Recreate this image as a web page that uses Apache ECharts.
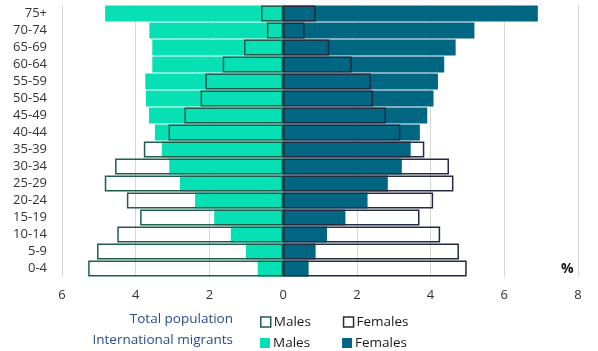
<!DOCTYPE html>
<html>
<head>
<meta charset="utf-8">
<script src="https://cdn.jsdelivr.net/npm/echarts@6/dist/echarts.min.js"></script>
<style>
html, body { margin: 0; padding: 0; background: #fff; }
#chart { width: 598px; height: 351px; }
</style>
</head>
<body>
<div id="chart"></div>
<script>
// age groups, bottom to top
var ageGroups = ['0-4', '5-9', '10-14', '15-19', '20-24', '25-29', '30-34', '35-39',
    '40-44', '45-49', '50-54', '55-59', '60-64', '65-69', '70-74', '75+'];

// shares in %
var migrantMales   = [0.69, 1.01, 1.42, 1.87, 2.39, 2.80, 3.09, 3.29, 3.48, 3.64, 3.72, 3.74, 3.55, 3.55, 3.63, 4.83];
var migrantFemales = [0.69, 0.88, 1.19, 1.69, 2.29, 2.84, 3.22, 3.46, 3.71, 3.91, 4.08, 4.20, 4.37, 4.68, 5.19, 6.91];
var totalMales     = [5.29, 5.05, 4.50, 3.88, 4.24, 4.84, 4.56, 3.78, 3.11, 2.68, 2.24, 2.11, 1.64, 1.06, 0.44, 0.60];
var totalFemales   = [4.98, 4.77, 4.26, 3.70, 4.07, 4.62, 4.50, 3.83, 3.18, 2.79, 2.44, 2.38, 1.86, 1.25, 0.58, 0.88];

var teal = '#06e0b4';
var navy = '#006681';
var maleLine = '#1f5e4d';
var femaleLine = '#222b40';
var labelBlue = '#2b4a96';

function neg(arr) {
    return arr.map(function (v) { return -v; });
}

var chart = echarts.init(document.getElementById('chart'));

var option = {
    animation: false,
    textStyle: { fontFamily: 'Open Sans' },
    grid: { left: 62, right: 20, top: 5, bottom: 74 },
    xAxis: {
        type: 'value',
        min: -6,
        max: 8,
        interval: 2,
        axisLine: { show: false },
        axisTick: { show: false },
        axisLabel: {
            color: '#333',
            fontSize: 13,
            margin: 12,
            formatter: function (v) { return Math.abs(v); }
        },
        splitLine: { lineStyle: { color: '#d6d6d6', width: 1 } }
    },
    yAxis: {
        type: 'category',
        data: ageGroups,
        axisTick: { show: false },
        axisLine: { show: true, lineStyle: { color: '#9a9a9a' } },
        axisLabel: { color: '#333', fontSize: 13, margin: 15 }
    },
    legend: [
        {
            left: 255, top: 310,
            itemWidth: 10, itemHeight: 10, itemGap: 32,
            icon: 'rect',
            textStyle: { fontSize: 13.5, color: '#1a1a1a', padding: [0, 0, 0, -2] },
            formatter: function (n) { return n.indexOf('Males') >= 0 ? 'Males' : 'Females'; },
            data: [
                { name: 'Total population Males', itemStyle: { color: '#fff', borderColor: maleLine, borderWidth: 1.5 } },
                { name: 'Total population Females', itemStyle: { color: '#fff', borderColor: femaleLine, borderWidth: 1.5 } }
            ]
        },
        {
            left: 255, top: 331,
            itemWidth: 10, itemHeight: 10, itemGap: 32,
            icon: 'rect',
            textStyle: { fontSize: 13.5, color: '#1a1a1a', padding: [0, 0, 0, -2] },
            formatter: function (n) { return n.indexOf('Males') >= 0 ? 'Males' : 'Females'; },
            data: ['International migrants Males', 'International migrants Females']
        }
    ],
    graphic: [
        { type: 'text', right: 598 - 233, top: 312, style: { text: 'Total population', fill: labelBlue, font: '13.5px "Open Sans"' } },
        { type: 'text', right: 598 - 233, top: 333, style: { text: 'International migrants', fill: labelBlue, font: '13.5px "Open Sans"' } },
        { type: 'text', left: 561, top: 262, style: { text: '%', fill: '#111', font: 'bold 14px "Open Sans"' } }
    ],
    series: [
        {
            name: 'International migrants Males',
            type: 'bar',
            data: neg(migrantMales),
            barGap: '-100%',
            barCategoryGap: '5%',
            itemStyle: { color: teal }
        },
        {
            name: 'International migrants Females',
            type: 'bar',
            data: migrantFemales,
            barGap: '-100%',
            barCategoryGap: '5%',
            itemStyle: { color: navy }
        },
        {
            name: 'Total population Males',
            type: 'bar',
            data: neg(totalMales),
            barGap: '-100%',
            barCategoryGap: '5%',
            itemStyle: { color: 'rgba(255,255,255,0)', borderColor: maleLine, borderWidth: 1.5 }
        },
        {
            name: 'Total population Females',
            type: 'bar',
            data: totalFemales,
            barGap: '-100%',
            barCategoryGap: '5%',
            itemStyle: { color: 'rgba(255,255,255,0)', borderColor: femaleLine, borderWidth: 1.5 }
        }
    ]
};

chart.setOption(option);
</script>
</body>
</html>
